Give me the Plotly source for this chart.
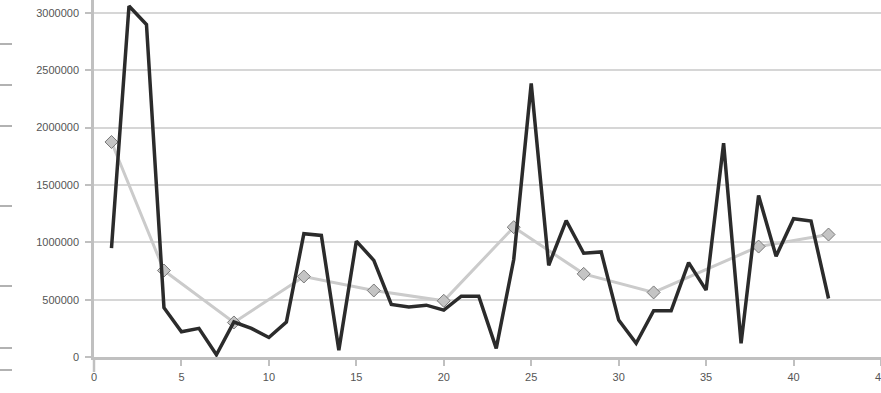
import plotly.graph_objects as go

# Data
x_main = list(range(1, 43))
y_main = [950000, 3060000, 2900000, 430000, 220000, 250000, 20000, 305000, 250000, 170000,
          305000, 1075000, 1060000, 60000, 1010000, 843000, 458000, 437000, 452000, 409000,
          530000, 530000, 75000, 850000, 2385000, 800000, 1190000, 905000, 916000, 322000,
          119000, 403000, 403000, 823000, 583000, 1864000, 119000, 1409000, 878000, 1206000,
          1185000, 510000]

x_avg = [1, 4, 8, 12, 16, 20, 24, 28, 32, 38, 42]
y_avg = [1875000, 754000, 301000, 702000, 580000, 490000, 1132000, 725000, 563000, 963000, 1068000]

y_ticks = [0, 500000, 1000000, 1500000, 2000000, 2500000, 3000000]
y_tick_labels = ["0", "500000", "1000000", "1500000", "2000000", "2500000", "3000000"]
x_ticks = [0, 5, 10, 15, 20, 25, 30, 35, 40, 45]

fig = go.Figure()
fig.add_trace(go.Scatter(
    x=x_avg, y=y_avg, mode="lines+markers",
    line=dict(color="#cbcbcb", width=3),
    marker=dict(symbol="diamond", size=10, color="#c4c4c4",
                line=dict(color="#7a7a7a", width=1)),
    showlegend=False, hoverinfo="skip"))
fig.add_trace(go.Scatter(
    x=x_main, y=y_main, mode="lines",
    line=dict(color="#2b2b2b", width=3.5),
    showlegend=False, hoverinfo="skip"))

axis_col = "#c0c0c0"
tick_font = dict(family="Liberation Sans", size=11, color="#555555")
fig.update_layout(
    width=881, height=393,
    margin=dict(l=94, r=0, t=0, b=36),
    paper_bgcolor="white", plot_bgcolor="white",
    font=dict(family="Liberation Sans", size=11, color="#555555"),
    xaxis=dict(range=[0, 45], tickvals=x_ticks, ticks="outside", ticklen=6,
               tickcolor=axis_col, tickwidth=1.5, showgrid=False, zeroline=False,
               showline=True, linecolor=axis_col, linewidth=2.5, tickfont=tick_font,
               ticklabeloverflow="allow", ticklabelstandoff=2, automargin=False),
    yaxis=dict(range=[0, 3113000], tickvals=y_ticks, ticktext=y_tick_labels,
               ticks="outside", ticklen=6, tickcolor=axis_col, tickwidth=1.5,
               showgrid=True, gridcolor="#d6d6d6", gridwidth=2, zeroline=False,
               showline=True, linecolor=axis_col, linewidth=2.5, tickfont=tick_font,
               ticklabelstandoff=4, ticklabeloverflow="allow", automargin=False),
)

# axis extension below the origin and scan-edge dashes at the far left
fig.add_shape(type="line", xref="paper", yref="paper", x0=0, x1=0, y0=0, y1=-0.042,
              line=dict(color=axis_col, width=2.5))
for yp in [44, 85, 126, 206, 286, 348, 370]:
    fig.add_shape(type="line", xref="paper", yref="paper",
                  x0=-94 / 787, x1=-82 / 787,
                  y0=(357 - yp) / 357, y1=(357 - yp) / 357,
                  line=dict(color="#999", width=1.5))

fig.write_html("out.html", config={"displayModeBar": False},
               post_script="document.body.style.margin='0px';document.body.style.overflow='hidden';")
